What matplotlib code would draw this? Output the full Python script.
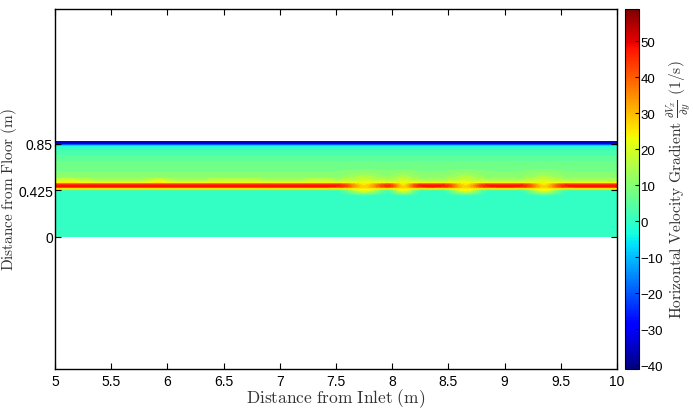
import numpy as np
import matplotlib.pyplot as plt
from matplotlib import cm, colors

plt.rcParams['mathtext.fontset'] = 'cm'
plt.rcParams['font.family'] = ['Liberation Sans', 'DejaVu Sans']

# vertical profile of dVx/dy (1/s) away from the disturbances
prof_y = [0.0, 0.425, 0.432, 0.445, 0.458, 0.47, 0.482, 0.494, 0.51, 0.548,
          0.60, 0.65, 0.73, 0.75, 0.81, 0.83, 0.845, 0.86, 0.877]
prof_val = [0, 0, 3, 22, 44, 49, 42, 22, 16, 11, 9, 7, 6, 3, 1, -5, -25, -36, -32]

# profile inside the blobs where the shear layer breaks up
blob_y = [0.0, 0.38, 0.40, 0.43, 0.46, 0.49, 0.52, 0.56, 0.60, 0.65, 0.73,
          0.75, 0.81, 0.83, 0.845, 0.86, 0.877]
blob_val = [0, 0, 10, 22, 28, 24, 18, 14, 10, 7, 6, 3, 1, -5, -25, -36, -32]
blob_x = [7.75, 8.1, 8.65, 9.35]
blob_w = [0.14, 0.09, 0.12, 0.12]

# faint yellow patches just above the layer
glow_x = [5.12, 5.92, 6.6, 7.35]
glow_w = [0.15, 0.09, 0.2, 0.1]
glow_amp = [5, 5, 3, 3]
glow_y = [0.0, 0.49, 0.505, 0.525, 0.545, 0.877]
glow_shape = [0, 0, 1, 1, 0, 0]

x = np.linspace(5, 10, 601)
y = np.linspace(0, 0.877, 351)
X, Y = np.meshgrid(x, y)

base = np.interp(Y, prof_y, prof_val)
blob = np.interp(Y, blob_y, blob_val)
w = np.zeros_like(X)
for xc, wd in zip(blob_x, blob_w):
    w = np.maximum(w, np.exp(-((X - xc) / wd) ** 2))
Z = (1 - w) * base + w * blob
gshape = np.interp(Y, glow_y, glow_shape)
for xc, wd, a in zip(glow_x, glow_w, glow_amp):
    Z += a * gshape * np.exp(-((X - xc) / wd) ** 2)

vmin, vmax = -41, 59
norm = colors.Normalize(vmin, vmax)

fig = plt.figure(figsize=(6.93, 4.10), dpi=100)
ax = fig.add_axes([0.0794, 0.0976, 0.8110, 0.878])
ax.contourf(X, Y, Z, levels=np.linspace(vmin, vmax, 41), cmap='jet', norm=norm)
ax.set_xlim(5, 10)
ax.set_ylim(-1.207, 2.084)
ax.set_xticks(np.arange(5, 10.01, 0.5))
ax.set_xticklabels(['5', '5.5', '6', '6.5', '7', '7.5', '8', '8.5', '9', '9.5', '10'])
ax.set_yticks([0, 0.425, 0.85])
ax.set_yticklabels(['0', '0.425', '0.85'])
ax.tick_params(direction='in', top=True, right=True, labelsize=10, length=4, width=0.8)
ax.tick_params(axis='y', pad=1.5)
for s in ax.spines.values():
    s.set_linewidth(1.0)
ax.set_xlabel(r'$\mathrm{Distance\ from\ Inlet\ (m)}$', fontsize=12.5, color='#333333', labelpad=-1)
ax.set_ylabel(r'$\mathrm{Distance\ from\ Floor\ (m)}$', fontsize=11, color='#333333')
ax.yaxis.set_label_coords(-0.064, 0.5)

cax = fig.add_axes([0.902, 0.0976, 0.0205, 0.878])
sm = cm.ScalarMappable(norm=norm, cmap='jet')
cb = fig.colorbar(sm, cax=cax)
cb.set_ticks(np.arange(-40, 51, 10))
cb.ax.tick_params(direction='in', labelsize=9.5, length=3, width=0.8, pad=1)
cb.outline.set_linewidth(0.8)
cb.set_label(r'$\mathrm{Horizontal\ Velocity\ Gradient}\ \frac{\partial V_x}{\partial y}\ \mathrm{(1/s)}$',
             fontsize=11.2, color='#333333')
cb.ax.yaxis.set_label_coords(2.75, 0.5)

fig.savefig('out.png', dpi=100)
